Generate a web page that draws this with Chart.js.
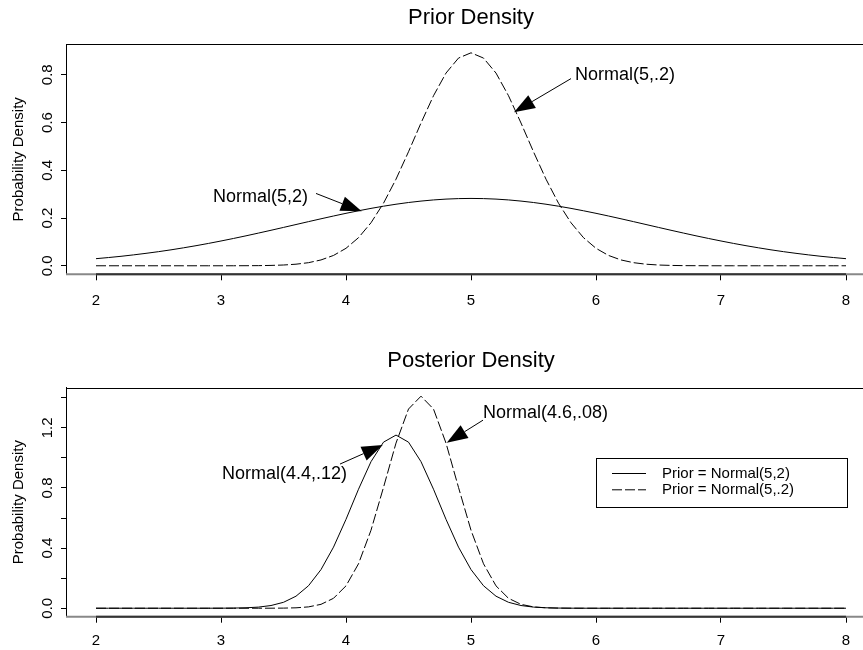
<!DOCTYPE html>
<html>
<head>
<meta charset="utf-8">
<title>Prior and Posterior Density</title>
<script src="https://cdn.jsdelivr.net/npm/chart.js@4.4.1/dist/chart.umd.min.js"></script>
<style>
  html, body { margin: 0; padding: 0; background: #fff; overflow: hidden; }
  #wrap { position: relative; width: 863px; height: 650px; overflow: hidden; }
  canvas { position: absolute; left: 0; }
  #priorChart { top: 0; }
  #posteriorChart { top: 325px; }
</style>
</head>
<body>
<div id="wrap">
  <canvas id="priorChart" width="950" height="325"></canvas>
  <canvas id="posteriorChart" width="950" height="325"></canvas>
</div>
<script>
// grid of theta values the densities were evaluated on
const xs = [
    2.0, 2.1, 2.2, 2.3, 2.4, 2.5, 2.6, 2.7, 2.8, 2.9,
    3.0, 3.1, 3.2, 3.3, 3.4, 3.5, 3.6, 3.7, 3.8, 3.9,
    4.0, 4.1, 4.2, 4.3, 4.4, 4.5, 4.6, 4.7, 4.8, 4.9,
    5.0, 5.1, 5.2, 5.3, 5.4, 5.5, 5.6, 5.7, 5.8, 5.9,
    6.0, 6.1, 6.2, 6.3, 6.4, 6.5, 6.6, 6.7, 6.8, 6.9,
    7.0, 7.1, 7.2, 7.3, 7.4, 7.5, 7.6, 7.7, 7.8, 7.9,
    8.0
];
const xTicks = [2, 3, 4, 5, 6, 7, 8];

// prior Normal(5,2)
const priorWide = [
    0.0297, 0.0345, 0.0397, 0.0456, 0.0521, 0.0591, 0.0668, 0.0752, 0.0841, 0.0937,
    0.1038, 0.1144, 0.1255, 0.1370, 0.1487, 0.1607, 0.1728, 0.1849, 0.1968, 0.2085,
    0.2197, 0.2304, 0.2404, 0.2496, 0.2578, 0.2650, 0.2710, 0.2758, 0.2793, 0.2814,
    0.2821, 0.2814, 0.2793, 0.2758, 0.2710, 0.2650, 0.2578, 0.2496, 0.2404, 0.2304,
    0.2197, 0.2085, 0.1968, 0.1849, 0.1728, 0.1607, 0.1487, 0.1370, 0.1255, 0.1144,
    0.1038, 0.0937, 0.0841, 0.0752, 0.0668, 0.0591, 0.0521, 0.0456, 0.0397, 0.0345,
    0.0297
];
// prior Normal(5,.2)
const priorNarrow = [
    0, 0, 0, 0, 0, 0, 0, 0, 0, 0,
    0.0000, 0.0001, 0.0003, 0.0006, 0.0015, 0.0032, 0.0066, 0.0130, 0.0244, 0.0433,
    0.0732, 0.1177, 0.1801, 0.2621, 0.3627, 0.4775, 0.5980, 0.7123, 0.8072, 0.8700,
    0.8921, 0.8700, 0.8072, 0.7123, 0.5980, 0.4775, 0.3627, 0.2621, 0.1801, 0.1177,
    0.0732, 0.0433, 0.0244, 0.0130, 0.0066, 0.0032, 0.0015, 0.0006, 0.0003, 0.0001,
    0, 0, 0, 0, 0, 0, 0, 0, 0, 0,
    0
];
// posterior Normal(4.4,.12)
const postWide = [
    0, 0, 0, 0, 0, 0, 0, 0, 0, 0.0001,
    0.0003, 0.0010, 0.0029, 0.0074, 0.0179, 0.0394, 0.0800, 0.1495, 0.2570, 0.4064,
    0.5913, 0.7915, 0.9749, 1.1047, 1.1517, 1.1047, 0.9749, 0.7915, 0.5913, 0.4064,
    0.2570, 0.1495, 0.0800, 0.0394, 0.0179, 0.0074, 0.0029, 0.0010, 0.0003, 0.0001,
    0, 0, 0, 0, 0, 0, 0, 0, 0, 0,
    0, 0, 0, 0, 0, 0, 0, 0, 0, 0,
    0
];
// posterior Normal(4.6,.08)
const postNarrow = [
    0, 0, 0, 0, 0, 0, 0, 0, 0, 0,
    0, 0, 0, 0, 0.0002, 0.0007, 0.0027, 0.0089, 0.0258, 0.0660,
    0.1487, 0.2957, 0.5189, 0.8037, 1.0985, 1.3250, 1.4105, 1.3250, 1.0985, 0.8037,
    0.5189, 0.2957, 0.1487, 0.0660, 0.0258, 0.0089, 0.0027, 0.0007, 0.0002, 0,
    0, 0, 0, 0, 0, 0, 0, 0, 0, 0,
    0, 0, 0, 0, 0, 0, 0, 0, 0, 0,
    0
];

const priorYTicks = [0, 0.2, 0.4, 0.6, 0.8];
const priorYLabels = ['0.0', '0.2', '0.4', '0.6', '0.8'];
const postYTicks = [0, 0.2, 0.4, 0.6, 0.8, 1.0, 1.2, 1.4];
const postYLabels = ['0.0', '', '0.4', '', '0.8', '', '1.2', ''];

// labels with arrows, in data units
const priorNotes = [
    { text: 'Normal(5,.2)', at: [5.832, 0.797], align: 'left', from: [5.80, 0.784], to: [5.344, 0.643] },
    { text: 'Normal(5,2)', at: [3.696, 0.286], align: 'right', from: [3.76, 0.303], to: [4.126, 0.228] }
];
const postNotes = [
    { text: 'Normal(4.4,.12)', at: [4.008, 0.892], align: 'right', from: [3.952, 0.959], to: [4.294, 1.085] },
    { text: 'Normal(4.6,.08)', at: [5.096, 1.300], align: 'left', from: [5.096, 1.251], to: [4.806, 1.100] }
];

const FONT = 'Liberation Sans, Arial, sans-serif';
const DASH = [10, 3];

Chart.defaults.font.family = FONT;
Chart.defaults.color = '#000';

function drawArrow(ctx, x0, y0, x1, y1) {
    const ang = Math.atan2(y1 - y0, x1 - x0);
    const headLen = 21, halfW = 7.5;
    const bx = x1 - headLen * Math.cos(ang);
    const by = y1 - headLen * Math.sin(ang);
    ctx.setLineDash([]);
    ctx.lineWidth = 1;
    ctx.strokeStyle = '#000';
    ctx.beginPath();
    ctx.moveTo(x0, y0);
    ctx.lineTo(bx, by);
    ctx.stroke();
    ctx.beginPath();
    ctx.moveTo(x1, y1);
    ctx.lineTo(bx + halfW * Math.sin(ang), by - halfW * Math.cos(ang));
    ctx.lineTo(bx - halfW * Math.sin(ang), by + halfW * Math.cos(ang));
    ctx.closePath();
    ctx.fill();
}

function drawExtras(chart, cfg) {
    const ctx = chart.ctx;
    const area = chart.chartArea;
    const x = chart.scales.x, y = chart.scales.y;
    ctx.save();

    // frame: top edge, grey bottom edge, dark axis line between end ticks
    ctx.setLineDash([]);
    ctx.strokeStyle = '#000';
    ctx.lineWidth = 1;
    ctx.beginPath();
    ctx.moveTo(area.left, Math.round(area.top) + 0.5);
    ctx.lineTo(area.right, Math.round(area.top) + 0.5);
    ctx.lineTo(area.right, area.bottom);
    ctx.stroke();

    ctx.strokeStyle = '#888';
    ctx.lineWidth = 2;
    ctx.beginPath();
    ctx.moveTo(area.left, area.bottom);
    ctx.lineTo(area.right, area.bottom);
    ctx.stroke();

    ctx.strokeStyle = '#333';
    ctx.beginPath();
    ctx.moveTo(x.getPixelForValue(xTicks[0]), area.bottom);
    ctx.lineTo(x.getPixelForValue(xTicks[xTicks.length - 1]), area.bottom);
    ctx.stroke();

    // rotated y tick labels
    ctx.fillStyle = '#000';
    ctx.font = '15px ' + FONT;
    ctx.textAlign = 'center';
    ctx.textBaseline = 'middle';
    cfg.yTicks.forEach((v, i) => {
        if (!cfg.yLabels[i]) return;
        ctx.save();
        ctx.translate(47.5, y.getPixelForValue(v));
        ctx.rotate(-Math.PI / 2);
        ctx.fillText(cfg.yLabels[i], 0, 0);
        ctx.restore();
    });

    // annotations
    ctx.font = '18px ' + FONT;
    cfg.notes.forEach(n => {
        ctx.textAlign = n.align;
        ctx.textBaseline = 'middle';
        ctx.fillText(n.text, x.getPixelForValue(n.at[0]), y.getPixelForValue(n.at[1]));
        drawArrow(ctx,
            x.getPixelForValue(n.from[0]), y.getPixelForValue(n.from[1]),
            x.getPixelForValue(n.to[0]), y.getPixelForValue(n.to[1]));
    });

    // legend box
    if (cfg.legend) {
        const L = Math.round(x.getPixelForValue(cfg.legend.x0));
        const R = Math.round(x.getPixelForValue(cfg.legend.x1));
        const T = Math.round(y.getPixelForValue(cfg.legend.y0));
        const B = Math.round(y.getPixelForValue(cfg.legend.y1));
        ctx.lineWidth = 1;
        ctx.strokeStyle = '#000';
        ctx.strokeRect(L + 0.5, T + 0.5, R - L, B - T);
        ctx.font = '15px ' + FONT;
        ctx.textAlign = 'left';
        ctx.textBaseline = 'middle';
        chart.data.datasets.forEach((ds, i) => {
            const ly = T + 15.5 + i * 16.3;
            ctx.setLineDash(ds.borderDash || []);
            ctx.beginPath();
            ctx.moveTo(L + 16, ly);
            ctx.lineTo(L + 50, ly);
            ctx.stroke();
            ctx.setLineDash([]);
            ctx.fillText(ds.label, L + 66, ly);
        });
    }
    ctx.restore();
}

function makePanel(canvasId, cfg) {
    const ctx = document.getElementById(canvasId).getContext('2d');
    const extras = {
        id: 'extras',
        afterDraw: chart => drawExtras(chart, cfg)
    };
    return new Chart(ctx, {
        type: 'line',
        data: {
            datasets: cfg.series.map(s => ({
                label: s.label,
                data: xs.map((v, i) => ({ x: v, y: s.values[i] })),
                borderColor: '#000',
                borderWidth: 1,
                borderDash: s.dash,
                pointRadius: 0,
                tension: 0,
                fill: false
            }))
        },
        options: {
            responsive: false,
            devicePixelRatio: 1,
            animation: false,
            layout: { padding: { left: 0, right: 74, top: 0, bottom: 0 } },
            plugins: {
                legend: { display: false },
                tooltip: { enabled: false },
                title: {
                    display: true,
                    fullSize: false,
                    text: cfg.title,
                    color: '#000',
                    font: { size: 22, weight: 'normal' },
                    padding: cfg.titlePad
                }
            },
            scales: {
                x: {
                    type: 'linear',
                    min: 1.76,
                    max: 8.24,
                    afterBuildTicks: s => { s.ticks = xTicks.map(v => ({ value: v })); },
                    afterFit: s => { s.height = cfg.xAxisHeight; },
                    ticks: { font: { size: 15 }, color: '#000', padding: cfg.xLabelPad, maxRotation: 0, autoSkip: false },
                    grid: { drawOnChartArea: false, drawTicks: true, tickLength: 6, color: '#000' },
                    border: { display: false }
                },
                y: {
                    type: 'linear',
                    min: cfg.yMin,
                    max: cfg.yMax,
                    afterBuildTicks: s => { s.ticks = cfg.yTicks.map(v => ({ value: v })); },
                    afterFit: s => { s.width = 66; },
                    ticks: { display: false },
                    grid: { drawOnChartArea: false, drawTicks: true, tickLength: 5, color: '#000' },
                    border: { display: true, color: '#000', width: 1 },
                    title: {
                        display: true,
                        text: 'Probability Density',
                        color: '#000',
                        font: { size: 15 },
                        padding: { top: 10, bottom: 0 }
                    }
                }
            }
        },
        plugins: [extras]
    });
}

makePanel('priorChart', {
    title: 'Prior Density',
    titlePad: { top: 4.3, bottom: 13.6 },
    xAxisHeight: 50.7,
    xLabelPad: 11.5,
    yMin: -0.0357,
    yMax: 0.9277,
    yTicks: priorYTicks,
    yLabels: priorYLabels,
    notes: priorNotes,
    series: [
        { label: 'Normal(5,2)', values: priorWide, dash: [] },
        { label: 'Normal(5,.2)', values: priorNarrow, dash: DASH }
    ]
});

makePanel('posteriorChart', {
    title: 'Posterior Density',
    titlePad: { top: 22.8, bottom: 13.5 },
    xAxisHeight: 33.3,
    xLabelPad: 9,
    yMin: -0.0564,
    yMax: 1.4669,
    yTicks: postYTicks,
    yLabels: postYLabels,
    notes: postNotes,
    legend: { x0: 6.0, x1: 8.01, y0: 1.0, y1: 0.67 },
    series: [
        { label: 'Prior = Normal(5,2)', values: postWide, dash: [] },
        { label: 'Prior = Normal(5,.2)', values: postNarrow, dash: DASH }
    ]
});
</script>
</body>
</html>
